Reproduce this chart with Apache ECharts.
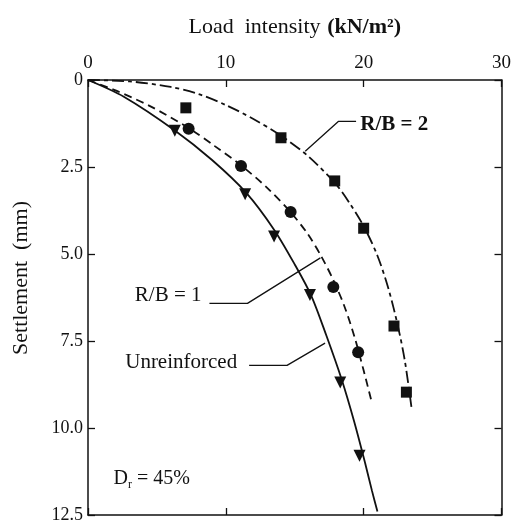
<!DOCTYPE html>
<html>
<head>
<meta charset="utf-8">
<script src="https://cdn.jsdelivr.net/npm/echarts@6/dist/echarts.min.js"></script>
<style>
  html, body { margin: 0; padding: 0; background: #fff; }
  #chart { width: 514px; height: 524px; }
</style>
</head>
<body>
<div id="chart"></div>
<script>
// measured points: [load kN/m2, settlement mm]
var rb2Pts = [[7.1, 0.8], [14.0, 1.66], [17.9, 2.9], [20.0, 4.26], [22.2, 7.07], [23.1, 8.97]];
var rb1Pts = [[7.3, 1.4], [11.1, 2.47], [14.7, 3.79], [17.8, 5.95], [19.6, 7.82]];
var unrPts = [[6.3, 1.46], [11.4, 3.28], [13.5, 4.5], [16.1, 6.18], [18.3, 8.69], [19.7, 10.8]];

// fitted curves
var rb2Curve = [[0, 0], [3, 0.04], [6, 0.2], [8, 0.4], [10, 0.72], [12, 1.12], [14, 1.6], [16, 2.2],
  [18, 3.0], [19, 3.55], [20, 4.2], [21, 5.05], [21.8, 6.0], [22.5, 7.1], [23.0, 8.1], [23.5, 9.5]];
var rb1Curve = [[0, 0], [2, 0.3], [4.5, 0.75], [7.3, 1.38], [9.2, 1.9], [11.1, 2.45], [13, 3.1],
  [14.7, 3.8], [15.9, 4.4], [16.9, 5.05], [17.8, 5.75], [18.6, 6.5], [19.35, 7.4], [20.0, 8.35], [20.55, 9.2]];
var unrCurve = [[0, 0], [2.6, 0.48], [6.3, 1.45], [9, 2.3], [11.5, 3.25], [13.5, 4.3], [15, 5.3],
  [16.2, 6.2], [17.3, 7.35], [18.4, 8.6], [19.3, 9.8], [20.1, 11.0], [20.6, 11.8], [21.0, 12.4]];

// leader lines for the labels
var rb2Leader = [[19.45, 1.19], [18.16, 1.19], [15.76, 2.05]];
var rb1Leader = [[8.81, 6.42], [11.57, 6.42], [16.86, 5.11]];
var unrLeader = [[11.69, 8.2], [14.44, 8.2], [17.2, 7.56]];

var xTicks = [0, 10, 20, 30];
var yTicks = [0, 2.5, 5.0, 7.5, 10.0, 12.5];

var labels = [
  { text: 'R/B = 2', at: [19.75, 1.28], bold: true },
  { text: 'R/B = 1', at: [3.4, 6.2], bold: false },
  { text: 'Unreinforced', at: [2.7, 8.13], bold: false }
];

var font = "'Liberation Serif', 'DejaVu Serif', serif";
var ink = '#111';

var chart = echarts.init(document.getElementById('chart'));

function lineS(data, type) {
  return {
    type: 'line', data: data, smooth: 0.3, symbol: 'none', silent: true,
    lineStyle: { color: ink, width: 1.8, type: type }
  };
}
function leaderS(data) {
  return {
    type: 'line', data: data, symbol: 'none', silent: true,
    lineStyle: { color: ink, width: 1.3 }
  };
}
function dotS(data, symbol, size, rotate) {
  return {
    type: 'scatter', data: data, symbol: symbol, symbolSize: size, symbolRotate: rotate || 0,
    itemStyle: { color: ink, opacity: 1 }, z: 5
  };
}

var axisCommon = {
  type: 'value', splitLine: { show: false },
  axisLine: { show: true, onZero: false, lineStyle: { color: ink, width: 1.5 } },
  axisTick: { show: true, inside: true, length: 7, lineStyle: { color: ink, width: 1.3 } }
};

var option = {
  animation: false,
  backgroundColor: '#fff',
  grid: { left: 88, right: 9, top: 80, bottom: 6 },
  xAxis: [
    Object.assign({}, axisCommon, {
      position: 'top', min: xTicks[0], max: xTicks[xTicks.length - 1], interval: 10,
      axisLabel: { color: ink, fontFamily: font, fontSize: 19, margin: 7 },
      name: '{n|Load  intensity}  {b|(kN/m\u00b2)}', nameLocation: 'middle', nameGap: 42,
      nameTextStyle: {
        rich: {
          n: { fontFamily: font, fontSize: 22, color: ink },
          b: { fontFamily: font, fontSize: 22, fontWeight: 'bold', color: ink }
        }
      }
    }),
    Object.assign({}, axisCommon, {
      position: 'bottom', min: 0, max: 30, interval: 10, axisLabel: { show: false }
    })
  ],
  yAxis: [
    Object.assign({}, axisCommon, {
      position: 'left', inverse: true, min: yTicks[0], max: yTicks[yTicks.length - 1], interval: 2.5,
      axisLabel: {
        color: ink, fontFamily: font, fontSize: 18, margin: 5,
        formatter: function (v) { return v === 0 ? '0' : v.toFixed(1); }
      }
    }),
    Object.assign({}, axisCommon, {
      position: 'right', inverse: true, min: 0, max: 12.5, interval: 2.5, axisLabel: { show: false }
    })
  ],
  series: [
    lineS(rb2Curve, [12, 4, 4, 4]),
    lineS(rb1Curve, [8, 5]),
    lineS(unrCurve, 'solid'),
    leaderS(rb2Leader),
    leaderS(rb1Leader),
    leaderS(unrLeader),
    dotS(rb2Pts, 'rect', 11),
    dotS(rb1Pts, 'circle', 12),
    dotS(unrPts, 'triangle', 12, 180)
  ]
};
chart.setOption(option);

var graphics = labels.map(function (l) {
  var p = chart.convertToPixel({ gridIndex: 0 }, l.at);
  return {
    type: 'text', x: p[0], y: p[1],
    style: {
      text: l.text, fill: ink, font: (l.bold ? 'bold ' : '') + '21px ' + font,
      verticalAlign: 'middle', align: 'left'
    }
  };
});
var dr = chart.convertToPixel({ gridIndex: 0 }, [1.85, 11.46]);
graphics.push({
  type: 'text', x: dr[0], y: dr[1],
  style: {
    text: '{d|D}{s|r}{d| = 45%}', verticalAlign: 'middle', align: 'left',
    rich: {
      d: { fontFamily: font, fontSize: 20, fill: ink },
      s: { fontFamily: font, fontSize: 12, fill: ink, padding: [12, 0, 0, 0] }
    }
  }
});
// y axis title, sits a little above the plot centre as in the original
graphics.push({
  type: 'text', x: 21, y: 278, rotation: Math.PI / 2,
  style: {
    text: 'Settlement  (mm)', fill: ink, font: '22px ' + font,
    align: 'center', verticalAlign: 'middle'
  }
});
chart.setOption({ graphic: graphics });

window.onresize = chart.resize;
</script>
</body>
</html>
